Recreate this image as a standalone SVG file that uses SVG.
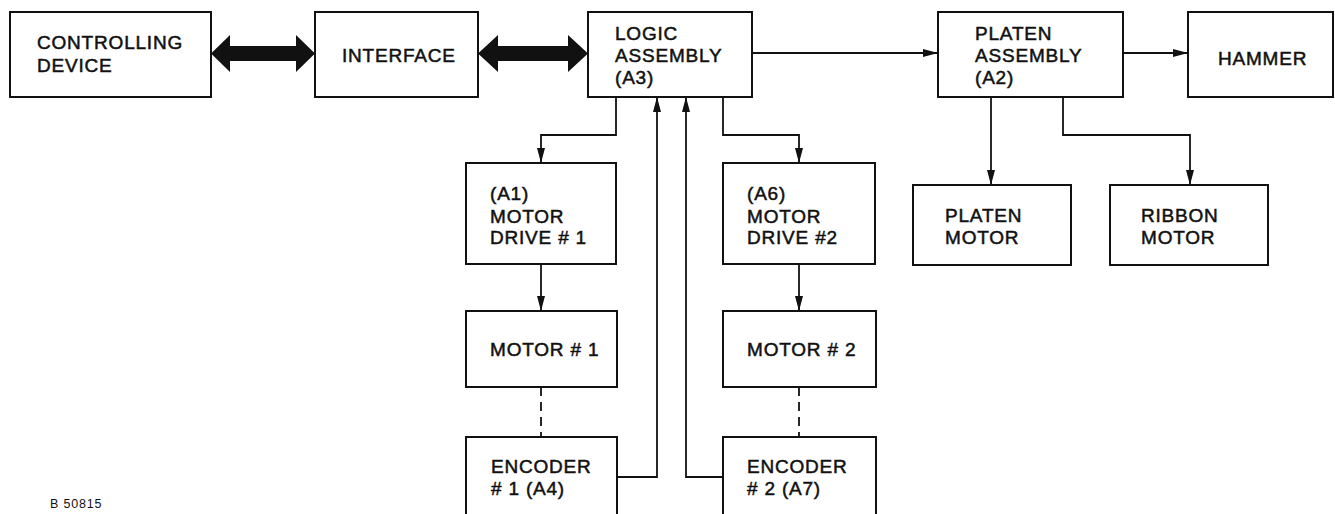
<svg xmlns="http://www.w3.org/2000/svg" width="1335" height="514" viewBox="0 0 1335 514">
<style>
.box{fill:#fff;stroke:#111;stroke-width:2}
.t{font-family:"Liberation Sans",Arial,sans-serif;font-size:19px;letter-spacing:0.8px;fill:#111;stroke:#111;stroke-width:0.5}
.s{font-family:"Liberation Sans",Arial,sans-serif;font-size:12.5px;letter-spacing:0.8px;fill:#111}
.c{fill:none;stroke:#111;stroke-width:1.8}
.d{fill:none;stroke:#111;stroke-width:1.8;stroke-dasharray:9 6}
.big{fill:#111;stroke:none}
</style>
<defs>
<marker id="ah" markerUnits="userSpaceOnUse" markerWidth="16" markerHeight="10" refX="15" refY="5" orient="auto">
<path d="M0,1 L15,5 L0,9 z" fill="#111"/>
</marker>
</defs>
<rect width="1335" height="514" fill="#fff"/>
<g id="connectors">
<polygon class="big" points="211,53.5 230,35 230,46 296,46 296,35 315,53.5 296,72 296,61 230,61 230,72"/>
<polygon class="big" points="478,53.5 498,35 498,46 568,46 568,35 588,53.5 568,72 568,61 498,61 498,72"/>
<line class="c" x1="752" y1="53" x2="938" y2="53" marker-end="url(#ah)"/>
<line class="c" x1="1123" y1="53" x2="1188" y2="53" marker-end="url(#ah)"/>
<polyline class="c" points="616,97 616,135 541,135 541,163" marker-end="url(#ah)"/>
<polyline class="c" points="723,97 723,135 799,135 799,163" marker-end="url(#ah)"/>
<line class="c" x1="541" y1="264" x2="541" y2="311" marker-end="url(#ah)"/>
<line class="c" x1="799" y1="264" x2="799" y2="311" marker-end="url(#ah)"/>
<line class="d" x1="541" y1="387" x2="541" y2="437"/>
<line class="d" x1="799" y1="387" x2="799" y2="437"/>
<polyline class="c" points="617,477 657,477 657,97" marker-end="url(#ah)"/>
<polyline class="c" points="723,477 686,477 686,97" marker-end="url(#ah)"/>
<line class="c" x1="991" y1="97" x2="991" y2="185" marker-end="url(#ah)"/>
<polyline class="c" points="1063,97 1063,135 1190,135 1190,185" marker-end="url(#ah)"/>
</g>
<g id="controlling-device">
<rect class="box" x="10" y="12" width="201" height="85"/>
<text class="t" x="37" y="49">CONTROLLING</text>
<text class="t" x="37" y="72">DEVICE</text>
</g>
<g id="interface">
<rect class="box" x="315" y="12" width="163" height="85"/>
<text class="t" x="342" y="62">INTERFACE</text>
</g>
<g id="logic-assembly">
<rect class="box" x="588" y="12" width="164" height="85"/>
<text class="t" x="615" y="40">LOGIC</text>
<text class="t" x="615" y="62">ASSEMBLY</text>
<text class="t" x="615" y="84">(A3)</text>
</g>
<g id="platen-assembly">
<rect class="box" x="938" y="12" width="185" height="85"/>
<text class="t" x="975" y="40">PLATEN</text>
<text class="t" x="975" y="62">ASSEMBLY</text>
<text class="t" x="975" y="84">(A2)</text>
</g>
<g id="hammer">
<rect class="box" x="1188" y="12" width="145" height="85"/>
<text class="t" x="1218" y="65">HAMMER</text>
</g>
<g id="motor-drive-1">
<rect class="box" x="466" y="163" width="150" height="101"/>
<text class="t" x="490" y="200">(A1)</text>
<text class="t" x="490" y="223">MOTOR</text>
<text class="t" x="490" y="244">DRIVE # 1</text>
</g>
<g id="motor-drive-2">
<rect class="box" x="723" y="163" width="152" height="101"/>
<text class="t" x="747" y="200">(A6)</text>
<text class="t" x="747" y="223">MOTOR</text>
<text class="t" x="747" y="244">DRIVE #2</text>
</g>
<g id="motor-1">
<rect class="box" x="466" y="311" width="151" height="76"/>
<text class="t" x="490" y="356">MOTOR # 1</text>
</g>
<g id="motor-2">
<rect class="box" x="723" y="311" width="153" height="76"/>
<text class="t" x="747" y="356">MOTOR # 2</text>
</g>
<g id="encoder-1">
<rect class="box" x="466" y="437" width="151" height="90"/>
<text class="t" x="491" y="473">ENCODER</text>
<text class="t" x="491" y="495"># 1 (A4)</text>
</g>
<g id="encoder-2">
<rect class="box" x="723" y="437" width="153" height="90"/>
<text class="t" x="747" y="473">ENCODER</text>
<text class="t" x="747" y="495"># 2 (A7)</text>
</g>
<g id="platen-motor">
<rect class="box" x="913" y="185" width="158" height="80"/>
<text class="t" x="945" y="222">PLATEN</text>
<text class="t" x="945" y="244">MOTOR</text>
</g>
<g id="ribbon-motor">
<rect class="box" x="1110" y="185" width="158" height="80"/>
<text class="t" x="1141" y="222">RIBBON</text>
<text class="t" x="1141" y="244">MOTOR</text>
</g>
<text class="s" x="50" y="508">B 50815</text>
</svg>
